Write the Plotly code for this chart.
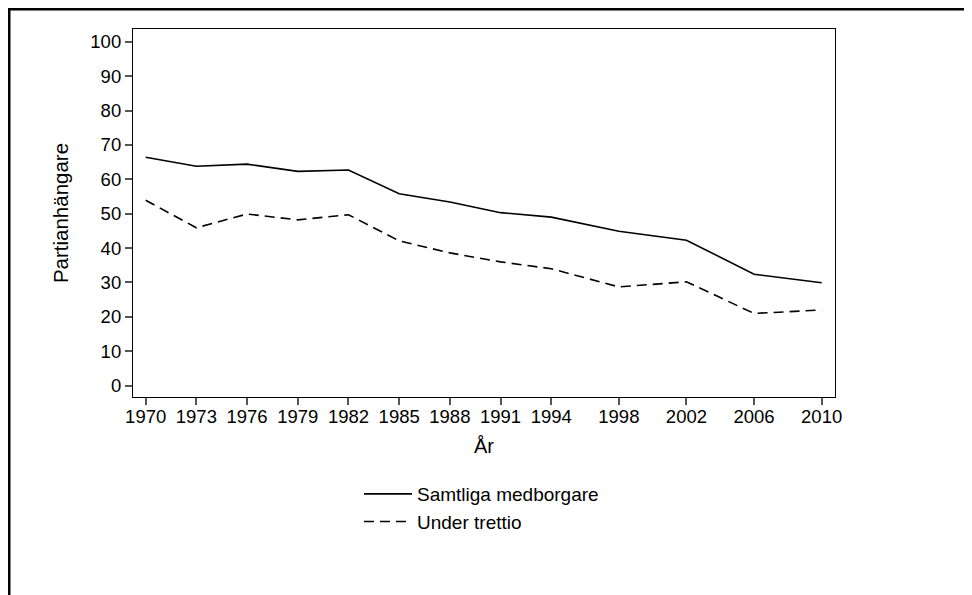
import plotly.graph_objects as go

years = [1970, 1973, 1976, 1979, 1982, 1985, 1988, 1991, 1994, 1998, 2002, 2006, 2010]
samtliga = [66.4, 63.8, 64.4, 62.3, 62.7, 55.8, 53.4, 50.3, 49.0, 44.9, 42.3, 32.4, 29.9]
under_trettio = [53.9, 45.9, 49.9, 48.2, 49.7, 42.1, 38.6, 36.0, 34.0, 28.7, 30.2, 21.0, 22.0]
y_ticks = [0, 10, 20, 30, 40, 50, 60, 70, 80, 90, 100]

FONT = "Liberation Sans, Arial, Helvetica, sans-serif"

fig = go.Figure()
fig.add_trace(go.Scatter(x=years, y=samtliga, mode="lines", name="Samtliga medborgare",
                         line=dict(color="black", width=1.6)))
fig.add_trace(go.Scatter(x=years, y=under_trettio, mode="lines", name="Under trettio",
                         line=dict(color="black", width=1.6, dash="10px,6px")))

# figure coordinates (page is offset by 8px body margin)
L, R, T, B = 125, 145, 21, 206
W, H = 972, 595
pw, ph = W - L - R, H - T - B

def px(x):
    return (x - L) / pw

def py(y):
    return (H - B - y) / ph

fig.update_layout(
    width=W, height=H,
    margin=dict(l=L, r=R, t=T, b=B),
    paper_bgcolor="white", plot_bgcolor="white",
    font=dict(family=FONT, size=18.5, color="black"),
    showlegend=True,
    legend=dict(x=px(351), y=py(467), xanchor="left", yanchor="top",
                bgcolor="rgba(0,0,0,0)", font=dict(size=19), itemwidth=48,
                tracegroupgap=0),
    xaxis=dict(range=[1969.25, 2010.79], tickvals=years, ticktext=[str(y) for y in years],
               showgrid=False, zeroline=False, showline=True, mirror=True,
               linecolor="black", linewidth=1.2, ticks="outside", ticklen=7,
               tickcolor="#555", tickwidth=1.5, tickfont=dict(size=18.5),
               ticklabelstandoff=-4,
               title=dict(text="År", standoff=12, font=dict(size=20))),
    yaxis=dict(range=[-3.3, 103.7], tickvals=y_ticks,
               showgrid=False, zeroline=False, showline=True, mirror=True,
               linecolor="black", linewidth=1.2, ticks="outside", ticklen=7,
               tickcolor="#555", tickwidth=1.5, tickfont=dict(size=18.5),
               title=dict(text="Partianhängare", standoff=16, font=dict(size=20.5))),
    shapes=[
        dict(type="line", xref="paper", yref="paper", x0=px(1.25), x1=px(1.25), y0=py(0), y1=py(H + 20),
             line=dict(color="black", width=2.5)),
        dict(type="line", xref="paper", yref="paper", x0=px(0), x1=px(W + 20), y0=py(1.25), y1=py(1.25),
             line=dict(color="black", width=2.5)),
    ],
)

fig.write_html("out.html")
